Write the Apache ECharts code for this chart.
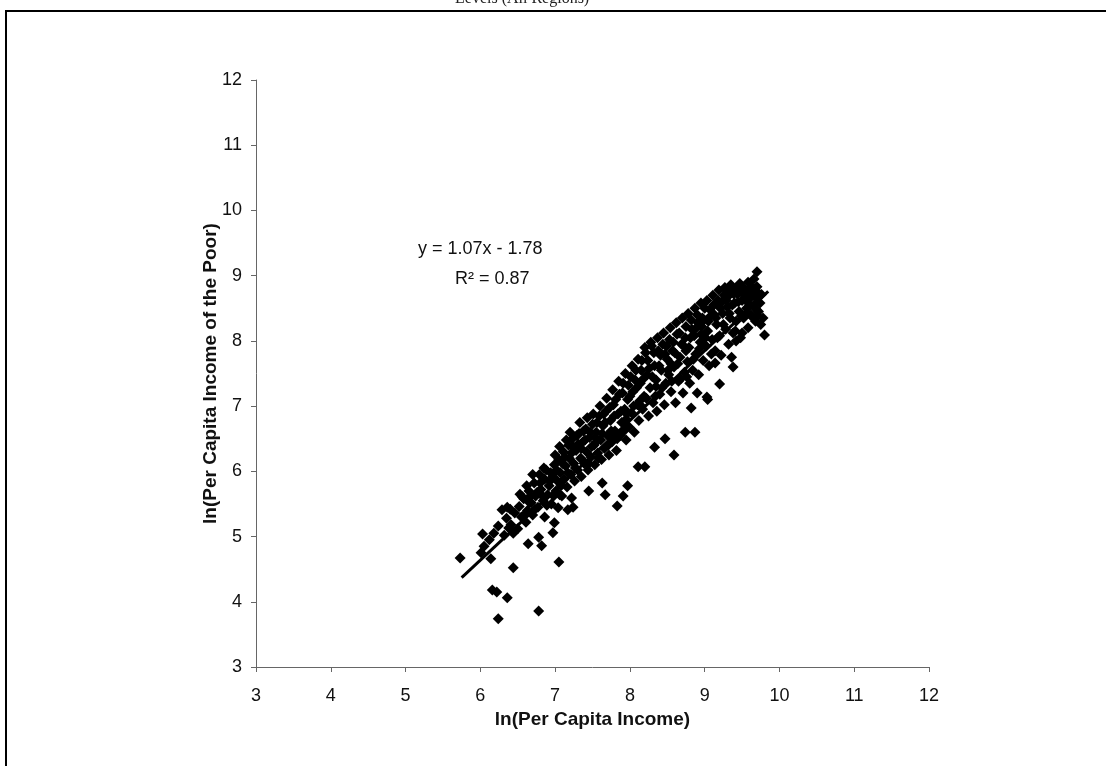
<!DOCTYPE html>
<html>
<head>
<meta charset="utf-8">
<script src="https://cdn.jsdelivr.net/npm/echarts@6/dist/echarts.min.js"></script>
<style>
  html, body { margin: 0; padding: 0; background: #fff; }
  #chart { width: 1106px; height: 766px; }
</style>
</head>
<body>
<div id="chart"></div>
<script>
// axis ticks
const xTicks = [3, 4, 5, 6, 7, 8, 9, 10, 11, 12];
const yTicks = [3, 4, 5, 6, 7, 8, 9, 10, 11, 12];

// scattered points away from the main band
const outerPoints = [
  [5.73,4.67],[6.01,4.75],[6.03,5.04],[6.14,4.66],[6.24,5.16],[6.29,5.41],[6.38,5.13],[6.44,4.52],
  [6.16,4.18],[6.22,4.15],[6.36,4.06],[6.24,3.74],[6.78,3.86],[6.64,4.89],[6.78,4.99],[6.82,4.86],
  [6.97,5.06],[6.99,5.21],[7.05,4.61],[6.40,5.42],[6.86,5.30],[7.04,5.44],[7.17,5.41],[7.22,5.59],
  [7.06,5.64],[6.66,5.52],[6.56,5.61],[7.24,5.45],[7.45,5.70],[7.63,5.82],[7.67,5.64],[7.91,5.62],
  [7.83,5.47],[7.97,5.78],[8.11,6.07],[8.20,6.07],[8.33,6.37],[8.47,6.50],[8.59,6.25],[8.74,6.60],
  [8.87,6.60],[8.82,6.97],[8.90,7.20],[9.03,7.14],[9.04,7.10],[9.20,7.34],[9.14,7.66],[9.36,7.75],
  [9.38,7.60],[9.42,8.00],[9.50,8.12],[9.80,8.09],[9.78,8.35],[9.76,8.71],[9.70,8.83],[9.70,9.06],
  [9.50,8.83],[9.30,8.75],[6.05,4.85],[6.12,4.95],[6.18,5.05]
];

// dense band along the trend
const bandPoints = [
  [6.32,5.02],[6.35,5.28],[6.41,5.18],[6.46,5.36],[6.50,5.12],[6.52,5.46],[6.55,5.30],[6.58,5.58],
  [6.61,5.22],[6.63,5.40],[6.65,5.70],[6.68,5.52],[6.70,5.33],[6.72,5.82],[6.74,5.62],
  [6.77,5.45],[6.79,5.95],[6.81,5.72],[6.84,5.55],[6.86,5.88],[6.88,6.02],[6.90,5.64],[6.92,5.78],
  [6.95,5.50],[6.97,5.92],[6.99,6.10],[7.01,5.70],[7.03,5.85],
  [7.05,6.18],[7.07,5.98],[7.09,5.62],[7.11,6.30],[7.12,5.88],[7.14,6.08],[7.16,5.76],[7.18,6.40],
  [7.19,6.20],[7.21,5.95],[7.23,6.50],[7.25,6.12],[7.26,5.85],
  [7.28,6.32],[7.30,6.02],[7.32,6.58],[7.34,6.20],[7.35,5.92],[7.37,6.45],[7.39,6.12],[7.41,6.65],
  [7.42,6.30],[7.44,6.02],[7.46,6.52],[7.48,6.22],[7.50,6.72],
  [7.52,6.40],[7.53,6.10],[7.55,6.60],[7.57,6.28],[7.59,6.85],[7.61,6.48],[7.62,6.18],[7.64,6.70],
  [7.66,6.35],[7.68,6.92],[7.70,6.55],[7.72,6.25],[7.74,6.78],
  [7.76,6.45],[7.78,7.02],[7.80,6.62],[7.82,6.32],[7.84,6.88],[7.86,7.18],[7.87,6.55],[7.89,6.75],
  [7.91,7.35],[7.93,6.95],[7.95,6.48],[7.97,7.10],[7.99,6.68],
  [8.01,7.45],[8.02,6.90],[8.04,7.22],[8.06,6.60],[8.08,7.55],[8.10,7.02],[8.12,6.78],[8.14,7.35],
  [8.16,7.70],[8.17,6.95],[8.19,7.15],[8.21,7.82],[8.23,7.48],[8.25,6.85],
  [8.27,7.28],[8.29,7.92],[8.31,7.05],[8.33,7.62],[8.35,7.40],[8.36,6.92],[8.38,7.85],[8.40,7.18],
  [8.42,7.55],[8.44,7.95],[8.46,7.02],[8.48,7.35],[8.50,7.72],
  [8.52,7.48],[8.53,8.02],[8.55,7.22],[8.57,7.85],[8.59,7.60],[8.61,7.05],[8.63,8.10],[8.65,7.38],
  [8.67,7.75],[8.69,7.95],[8.71,7.20],[8.73,7.52],[8.75,8.22],
  [8.77,7.68],[8.79,7.90],[8.80,7.35],[8.82,8.32],[8.84,7.55],[8.86,8.08],[8.88,7.80],[8.90,8.40],
  [8.92,7.48],[8.94,7.98],[8.96,8.22],[8.98,7.70],[9.00,8.50],
  [9.02,7.92],[9.04,8.15],[9.06,7.62],[9.08,8.38],[9.10,8.02],[9.12,8.55],[9.14,7.85],[9.16,8.25],
  [9.18,8.62],[9.20,8.08],[9.22,7.78],[9.24,8.42],[9.26,8.70],
  [9.28,8.18],[9.30,8.52],[9.32,7.95],[9.34,8.35],[9.36,8.78],[9.38,8.12],[9.40,8.58],[9.42,8.30],
  [9.44,8.72],[9.46,8.45],[9.48,8.05],[9.50,8.62],
  [9.52,8.35],[9.54,8.78],[9.56,8.50],[9.58,8.20],[9.60,8.68],[9.62,8.40],[9.64,8.82],[9.66,8.55],
  [9.68,8.30],[9.70,8.65],[9.72,8.45],[9.74,8.58],[9.66,8.95],[9.58,8.90]
];

// more points filling the band
const bandFill = [
  [6.36,5.45],[6.44,5.05],[6.53,5.65],[6.60,5.35],[6.67,5.62],[6.73,5.42],[6.80,5.82],[6.83,5.62],
  [6.89,5.48],[6.94,5.98],[6.98,5.62],[7.02,6.02],[7.08,5.78],[7.13,6.22],[7.17,5.98],[7.22,6.28],
  [7.27,6.05],[7.31,6.42],[7.36,6.18],[7.40,6.48],[7.45,6.12],[7.49,6.38],[7.54,6.52],[7.58,6.20],
  [7.63,6.58],[7.67,6.75],[7.71,6.40],[7.75,6.62],[7.79,6.85],[7.83,6.50],[7.88,6.92],[7.92,6.62],
  [7.96,6.88],[8.00,7.15],[8.05,7.00],[8.09,7.28],[8.13,7.08],[8.18,7.42],[8.22,7.12],[8.26,7.58],
  [8.30,7.45],[8.34,7.15],[8.39,7.62],[8.43,7.28],[8.47,7.80],[8.51,7.55],[8.56,7.38],[8.60,7.82],
  [8.64,7.65],[8.68,7.42],[8.72,7.92],[8.76,7.45],[8.81,8.05],[8.85,7.72],[8.89,8.20],[8.93,7.88],
  [8.97,8.35],[9.01,8.05],[9.05,8.30],[9.09,7.80],[9.13,8.40],[9.17,8.05],[9.21,8.50],[9.25,8.25],
  [9.29,8.62],[9.33,8.42],[9.37,8.55],[9.41,8.15],[9.45,8.60],[9.49,8.38],[9.53,8.70],[9.57,8.42],
  [9.61,8.55],[9.65,8.35],[9.69,8.48],[9.73,8.72]
];

// upper part of the band
const bandUpper = [
  [6.62,5.78],[6.70,5.95],[6.76,5.68],[6.85,6.05],[6.93,5.85],[7.00,6.25],[7.06,6.38],[7.10,6.12],
  [7.15,6.48],[7.20,6.60],[7.24,6.38],[7.29,6.55],[7.33,6.75],[7.38,6.62],[7.43,6.82],[7.47,6.60],
  [7.51,6.88],[7.56,6.75],[7.60,7.00],[7.65,6.88],[7.69,7.12],[7.73,6.98],[7.77,7.25],[7.81,7.10],
  [7.85,7.38],[7.90,7.20],[7.94,7.50],[7.98,7.32],[8.03,7.62],[8.07,7.40],[8.11,7.72],[8.15,7.55],
  [8.20,7.90],[8.24,7.70],[8.28,7.98],[8.32,7.82],[8.37,8.05],[8.41,7.78],[8.45,8.12],[8.49,7.92],
  [8.54,8.20],[8.58,7.98],[8.62,8.28],[8.66,8.12],[8.70,8.35],[8.74,8.05],[8.78,8.42],[8.83,8.18],
  [8.87,8.50],[8.91,8.28],[8.95,8.58],[8.99,8.32],[9.03,8.62],[9.07,8.48],[9.11,8.70],[9.15,8.58],
  [9.19,8.78],[9.23,8.60],[9.27,8.82],[9.31,8.68],[9.35,8.86],[9.39,8.72],[9.43,8.82],[9.47,8.88],
  [9.51,8.78],[9.55,8.62],[9.59,8.78],[9.63,8.68],[9.67,8.78],[9.71,8.38],[9.75,8.25],
  [7.35,6.35],[7.55,6.45],[7.75,6.55],[7.95,6.80],[8.15,7.00],[8.35,7.30],[8.55,7.65],[8.75,7.85],
  [8.95,8.10],[9.15,8.35]
];

// fitted line end points: y = 1.07x - 1.78
const trendLine = [[5.75, 4.37], [9.85, 8.76]];
const eqText = "y = 1.07x - 1.78";
const r2Text = "R² = 0.87";

const font = "Liberation Sans, Arial, sans-serif";
const chart = echarts.init(document.getElementById("chart"));

chart.setOption({
  animation: false,
  backgroundColor: "#fff",
  grid: { left: 256, right: 177, top: 80, bottom: 99 },
  graphic: [
    {
      type: "rect",
      shape: { x: 6, y: 11, width: 1110, height: 780 },
      style: { fill: "none", stroke: "#000", lineWidth: 2 }
    },
    {
      type: "text",
      left: 455, top: -9,
      style: { text: "Levels (All Regions)", font: "16px Liberation Serif, serif", fill: "#222" }
    },
    {
      type: "text",
      left: 418, top: 240,
      style: { text: eqText, font: "18px " + font, fill: "#111" }
    },
    {
      type: "text",
      left: 455, top: 270,
      style: { text: r2Text, font: "18px " + font, fill: "#111" }
    }
  ],
  xAxis: {
    type: "value",
    min: xTicks[0], max: xTicks[xTicks.length - 1], interval: 1,
    name: "ln(Per Capita Income)",
    nameLocation: "middle", nameGap: 40,
    nameTextStyle: { fontFamily: font, fontSize: 19, fontWeight: "bold", color: "#111" },
    axisLine: { lineStyle: { color: "#666", width: 1 } },
    axisTick: { show: true, inside: false, length: 5, lineStyle: { color: "#666" } },
    axisLabel: { margin: 20, fontFamily: font, fontSize: 18, color: "#111" },
    splitLine: { show: false }
  },
  yAxis: {
    type: "value",
    min: yTicks[0], max: yTicks[yTicks.length - 1], interval: 1,
    name: "ln(Per Capita Income of the Poor)",
    nameLocation: "middle", nameGap: 36, nameMoveOverlap: false,
    nameTextStyle: { fontFamily: font, fontSize: 19, fontWeight: "bold", color: "#111" },
    axisLine: { show: true, lineStyle: { color: "#666", width: 1 } },
    axisTick: { show: true, inside: false, length: 5, lineStyle: { color: "#666" } },
    axisLabel: { margin: 14, fontFamily: font, fontSize: 18, color: "#111" },
    splitLine: { show: false }
  },
  series: [
    {
      type: "scatter",
      symbol: "diamond",
      symbolSize: 11,
      itemStyle: { color: "#000", opacity: 1 },
      data: outerPoints.concat(bandPoints, bandFill, bandUpper)
    },
    {
      type: "line",
      data: trendLine,
      symbol: "none",
      lineStyle: { color: "#000", width: 3 },
      z: 3
    }
  ]
});
</script>
</body>
</html>
